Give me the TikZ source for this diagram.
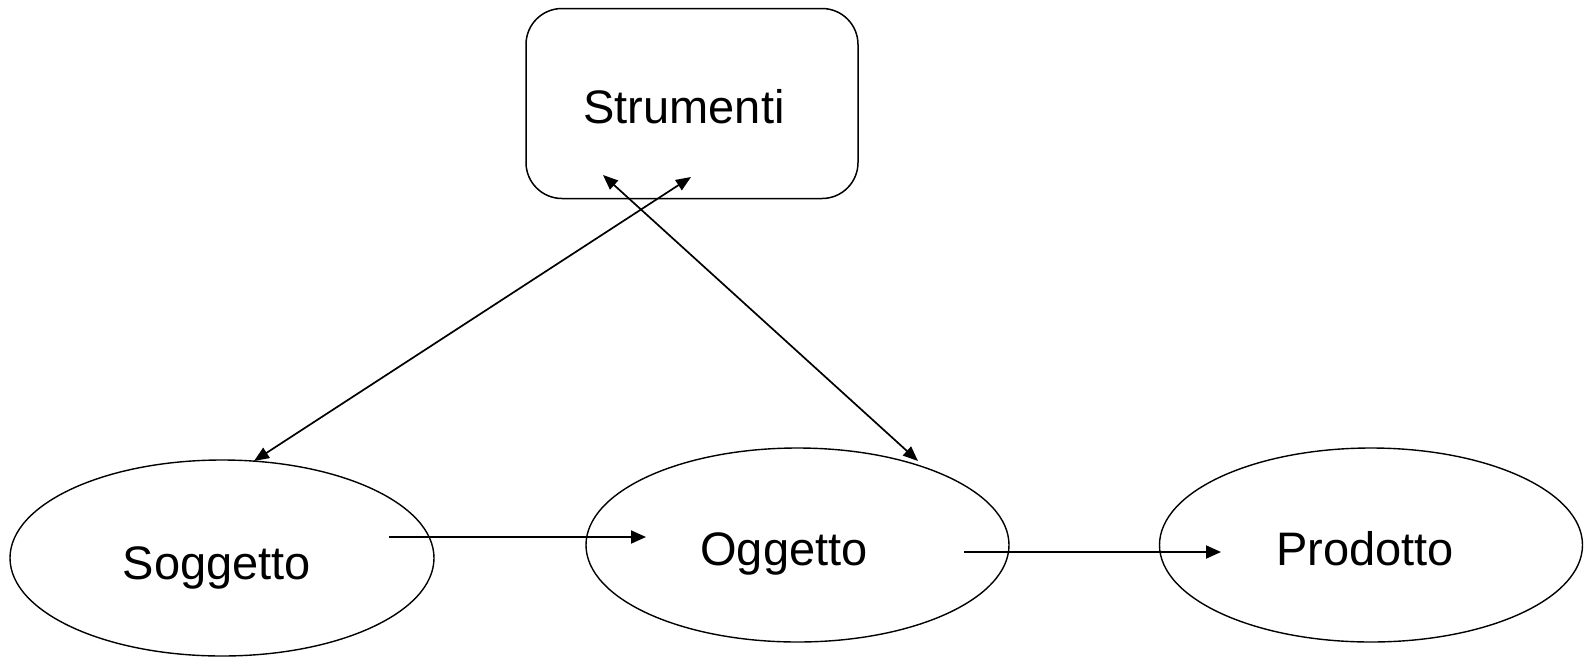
\documentclass[tikz,border=0pt]{standalone}
\usepackage{fontspec}
\setmainfont{Liberation Sans}
\usetikzlibrary{arrows.meta}
\begin{document}
\begin{tikzpicture}[x=1pt,y=-1pt,
  lbl/.style={font=\fontsize{47}{56}\selectfont, inner sep=0pt, anchor=base},
  conn/.style={line width=2pt, -{Triangle[length=15pt,width=13pt]}},
  dconn/.style={line width=1.7pt, {Triangle[length=15pt,width=12pt]}-{Triangle[length=15pt,width=12pt]}}]
\useasboundingbox (0,0) rectangle (1585,657);
\node[draw, line width=1.5pt, rounded corners=36pt, minimum width=332pt, minimum height=190pt] (box) at (692,103.5) {};
\node[lbl] (strumenti) at (684,123) {Strumenti};
\draw[line width=1.4pt] (222,558) ellipse [x radius=212, y radius=98];
\draw[line width=1.4pt] (797.5,545) ellipse [x radius=211.5, y radius=97];
\draw[line width=1.4pt] (1371,545) ellipse [x radius=211.5, y radius=97];
\node[lbl] (sogg) at (217,579) {Soggetto};
\node[lbl] (ogg) at (784,565) {Oggetto};
\node[lbl] (prod) at (1365,565) {Prodotto};
\coordinate (a1) at (389,537);
\coordinate (a2) at (646,537);
\coordinate (b1) at (964,552);
\coordinate (b2) at (1221,552);
\coordinate (c1) at (691,177);
\coordinate (c2) at (254,461);
\coordinate (d1) at (603,175);
\coordinate (d2) at (918,461);
\draw[conn] (a1) -- (a2);
\draw[conn] (b1) -- (b2);
\draw[dconn] (c1) -- (c2);
\draw[dconn] (d1) -- (d2);
\end{tikzpicture}
\end{document}
